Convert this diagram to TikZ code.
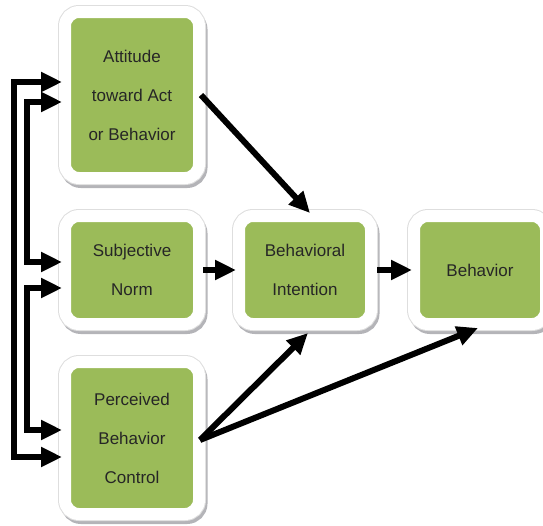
\documentclass[tikz,border=0pt]{standalone}
\usepackage{fontspec}
\setmainfont{Liberation Sans}
\usetikzlibrary{arrows.meta,calc}
\definecolor{boxgreen}{HTML}{9BBB59}
\definecolor{framegray}{HTML}{DEDEDE}
\definecolor{shadowgray}{HTML}{B4B4B8}
\definecolor{textdark}{HTML}{262626}
\tikzset{
  stagebox/.style={rectangle, rounded corners=14pt, fill=boxgreen, draw=white,
    line width=12pt, outer sep=0pt, align=center, text=textdark, inner sep=0pt,
    font={\fontsize{17}{39}\selectfont},
    preaction={draw=shadowgray, line width=13pt,
      transform canvas={shift={(2pt,-3.5pt)}}},
    preaction={draw=framegray, line width=14pt}},
  tip/.tip={Triangle[length=21pt,width=19pt]},
  arr/.style={line width=6pt, -tip},
  fb/.style={line width=6pt, line join=miter, tip-tip}
}
\begin{document}
\begin{tikzpicture}[x=1pt, y=-1pt]
  \useasboundingbox (0,0) rectangle (543,525);

  % stages of the model
  \node[stagebox, minimum width=134pt, minimum height=166pt] (att) at (132,95)
    {Attitude\\toward Act\\or Behavior};
  \node[stagebox, minimum width=134pt, minimum height=108pt] (sub) at (132,270)
    {Subjective\\Norm};
  \node[stagebox, minimum width=134pt, minimum height=152pt] (per) at (132,438)
    {Perceived\\Behavior\\Control};
  \node[stagebox, minimum width=132pt, minimum height=108pt] (int) at (305,270)
    {Behavioral\\Intention};
  \node[stagebox, minimum width=132pt, minimum height=108pt] (beh) at (480,270)
    {Behavior};

  % forward paths
  \draw[arr] ($(att.east)+(2,0)$) -- ($(int.north)+(5,-3)$);
  \draw[arr] ($(sub.east)+(4,0)$) -- ($(int.west)+(-3,0)$);
  \draw[arr] ($(int.east)+(6,0)$) -- ($(beh.west)+(-2,0)$);
  \draw[arr] ($(per.east)+(1,2)$) -- ($(int.south)+(3,9)$);
  \draw[arr] ($(per.east)+(1,2)$) -- ($(beh.south)+(-2,4)$);

  % correlations among the three antecedents
  \draw[fb] ($(att.west)+(-3,-13)$) -- ++(-48,0) |- ($(per.west)+(-3,19)$);
  \draw[fb] ($(att.west)+(-3,7)$) -- ++(-35,0) |- ($(sub.west)+(-3,-8)$);
  \draw[fb] ($(sub.west)+(-3,18)$) -- ++(-35,0) |- ($(per.west)+(-3,-8)$);
\end{tikzpicture}
\end{document}
